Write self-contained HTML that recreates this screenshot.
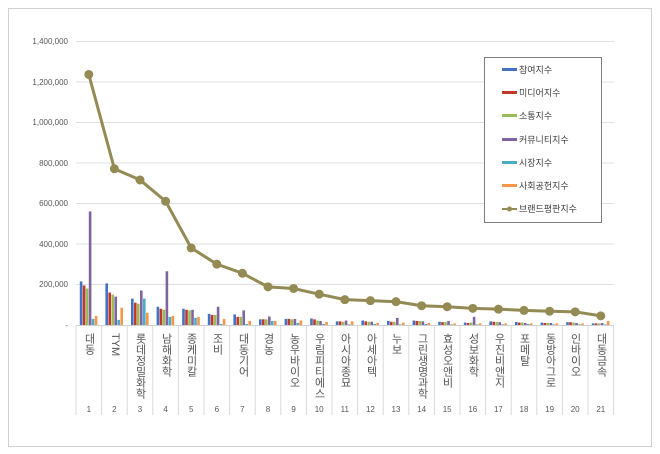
<!DOCTYPE html>
<html><head><meta charset="utf-8"><style>
body{margin:0;background:#fff;width:660px;height:454px;overflow:hidden}
svg text{font-family:"Liberation Sans","Noto Sans CJK KR",sans-serif}
.cat{position:absolute;top:333px;writing-mode:vertical-rl;font-family:"Liberation Sans","Noto Sans CJK KR",sans-serif;font-size:11px;color:#555;width:14px;letter-spacing:0px;line-height:14px}
</style></head><body>
<svg id="s" width="660" height="454" style="position:absolute;left:0;top:0">
<rect x="8.5" y="8.5" width="643" height="438" fill="#fff" stroke="#d0d0d0"/>
<g stroke="#e0e0e0" stroke-width="1">
<line x1="76" x2="614" y1="41.5" y2="41.5"/><line x1="76" x2="614" y1="82" y2="82"/><line x1="76" x2="614" y1="122.5" y2="122.5"/><line x1="76" x2="614" y1="163" y2="163"/><line x1="76" x2="614" y1="203.5" y2="203.5"/><line x1="76" x2="614" y1="244" y2="244"/><line x1="76" x2="614" y1="284.5" y2="284.5"/>
</g>
<line x1="76" x2="614" y1="325.5" y2="325.5" stroke="#d0d0d0"/>
<g font-size="8" fill="#595959" text-anchor="end">
<text x="68" y="44">1,400,000</text><text x="68" y="85">1,200,000</text><text x="68" y="125">1,000,000</text><text x="68" y="166">800,000</text><text x="68" y="206">600,000</text><text x="68" y="247">400,000</text><text x="68" y="287">200,000</text><text x="68" y="328">-</text>
</g>
<g id="bars"></g>
<g id="seps" stroke="#d9d9d9"></g>
<polyline id="ln" fill="none" stroke="#948a54" stroke-width="3"/>
<g id="dots" fill="#948a54"></g>
<g font-size="8" fill="#595959" text-anchor="middle" id="nums"></g>
<rect x="484.5" y="57.5" width="117" height="165" fill="#fff" stroke="#7f7f7f"/>
<g font-size="9" fill="#404040">
<rect x="502" y="68" width="15" height="3" fill="#4472c4"/><text x="519" y="73">참여지수</text>
<rect x="502" y="91" width="15" height="3" fill="#c0392b"/><text x="519" y="96">미디어지수</text>
<rect x="502" y="114" width="15" height="3" fill="#9bbb59"/><text x="519" y="119">소통지수</text>
<rect x="502" y="138" width="15" height="3" fill="#8064a2"/><text x="519" y="143">커뮤니티지수</text>
<rect x="502" y="161" width="15" height="3" fill="#4bacc6"/><text x="519" y="166">시장지수</text>
<rect x="502" y="184" width="15" height="3" fill="#f79646"/><text x="519" y="189">사회공헌지수</text>
<line x1="502" x2="517" y1="209" y2="209" stroke="#948a54" stroke-width="2"/><circle cx="509.5" cy="209" r="2.5" fill="#948a54"/><text x="519" y="212">브랜드평판지수</text>
</g>
</svg>
<div class="cat" style="left:82px">대동</div>
<div class="cat" style="left:108px">TYM</div>
<div class="cat" style="left:133px">롯데정밀화학</div>
<div class="cat" style="left:159px">남해화학</div>
<div class="cat" style="left:184px">종케미칼</div>
<div class="cat" style="left:210px">조비</div>
<div class="cat" style="left:236px">대동기어</div>
<div class="cat" style="left:261px">경농</div>
<div class="cat" style="left:287px">농우바이오</div>
<div class="cat" style="left:312px">우림피티에스</div>
<div class="cat" style="left:338px">아시아종묘</div>
<div class="cat" style="left:364px">아세아텍</div>
<div class="cat" style="left:389px">누보</div>
<div class="cat" style="left:415px">그린생명과학</div>
<div class="cat" style="left:440px">효성오앤비</div>
<div class="cat" style="left:466px">성보화학</div>
<div class="cat" style="left:492px">우진비앤지</div>
<div class="cat" style="left:517px">포메탈</div>
<div class="cat" style="left:543px">동방아그로</div>
<div class="cat" style="left:568px">인바이오</div>
<div class="cat" style="left:594px">대동금속</div>
<script>
var x0=76,st=25.6,Y=v=>325-v*284/1.4e6;
var line=[1235,770,715,610,380,300,255,188,180,152,125,120,115,95,90,82,78,72,68,65,45];
var bars=[[215,195,180,560,30,45],[205,160,150,140,25,85],[130,110,105,170,130,60],[90,80,75,265,40,45],[80,75,72,75,35,40],[55,50,50,90,5,30],[52,40,40,72,5,20],[28,28,28,42,20,20],[30,30,28,30,10,22],[32,28,22,20,5,15],[18,18,16,22,3,18],[22,18,16,16,5,10],[20,16,16,35,3,12],[22,20,20,18,5,10],[16,14,15,20,3,8],[12,10,12,40,3,8],[18,16,15,14,3,8],[15,12,12,10,5,8],[12,10,10,10,3,8],[14,14,12,10,3,8],[8,8,8,10,3,20]];
var col=["#4472c4","#c0392b","#9bbb59","#8064a2","#4bacc6","#f79646"];
var ns="http://www.w3.org/2000/svg",h="",pts=[],d="",sp="",nu="";
for(var i=0;i<21;i++){var cx=x0+st*i+st/2;
 for(var j=0;j<6;j++){var v=bars[i][j]*1000,y=Y(v);h+='<rect x="'+(cx-9+j*3)+'" y="'+y+'" width="2.6" height="'+(325-y)+'" fill="'+col[j]+'"/>';}
 var ly=Y(line[i]*1000);pts.push(cx+","+ly);d+='<circle cx="'+cx+'" cy="'+ly+'" r="4.5"/>';
 sp+='<line x1="'+(x0+st*i)+'" x2="'+(x0+st*i)+'" y1="326" y2="415"/>';
 nu+='<text x="'+cx+'" y="412">'+(i+1)+'</text>';}
sp+='<line x1="'+(x0+st*21)+'" x2="'+(x0+st*21)+'" y1="326" y2="415"/>';
document.getElementById("bars").innerHTML=h;
document.getElementById("ln").setAttribute("points",pts.join(" "));
document.getElementById("dots").innerHTML=d;
document.getElementById("seps").innerHTML=sp;
document.getElementById("nums").innerHTML=nu;
</script>
</body></html>
